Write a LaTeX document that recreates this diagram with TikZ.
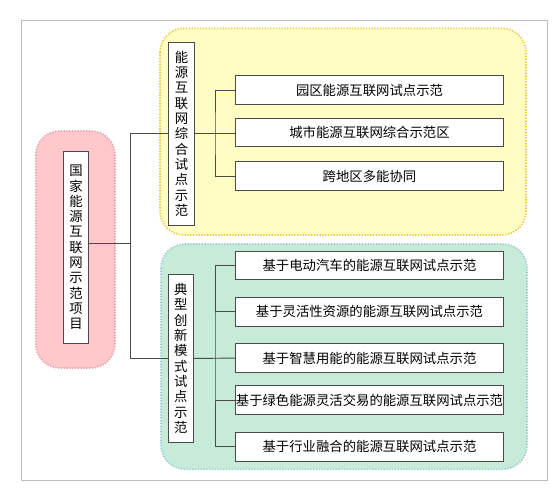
\documentclass[tikz,border=0pt]{standalone}
\usepackage{fontspec}
\setmainfont{Noto Sans CJK SC}
\usetikzlibrary{positioning}
\definecolor{PanelPink}{HTML}{FFC8CB}
\definecolor{EdgePink}{HTML}{E8A0A8}
\definecolor{PanelYellow}{HTML}{FFFDC4}
\definecolor{EdgeYellow}{HTML}{F2C53A}
\definecolor{PanelGreen}{HTML}{C6EBD9}
\definecolor{EdgeGreen}{HTML}{9CC8D4}
\definecolor{BoxLine}{HTML}{4A4A48}
\definecolor{FrameGray}{HTML}{BDBDBD}

\begin{document}
\begin{tikzpicture}[x=0.025cm,y=-0.025cm,
      panel/.style={rounded corners=0.6cm,line width=1.1pt,dash pattern=on 0.9pt off 1.1pt},
      leaf/.style={draw=BoxLine,fill=white,line width=0.8pt,minimum width=6.69cm,
      minimum height=0.72cm,inner sep=0pt,font=\fontsize{9.5}{11}\selectfont},
      vbox/.style={draw=BoxLine,fill=white,line width=0.8pt,minimum width=0.63cm,
      inner sep=0pt,align=center,font=\fontsize{9.5}{10.9}\selectfont},
      link/.style={draw=BoxLine,line width=0.7pt}]
      \useasboundingbox (0,0) rectangle (560,494);
      \draw[FrameGray,line width=0.7pt] (21.7,20) rectangle (547.7,480);
      % coloured panels
      \draw[panel,fill=PanelPink,draw=EdgePink] (35.7,131) rectangle (115,368);
      \draw[panel,fill=PanelYellow,draw=EdgeYellow] (160,28.3) rectangle (526,235);
      \draw[panel,fill=PanelGreen,draw=EdgeGreen] (161,244) rectangle (527,469.3);
      % root and groups
      \node[vbox,minimum height=4.79cm] (root) at (76,247.5)
        {国\\家\\能\\源\\互\\联\\网\\示\\范\\项\\目};
      \node[vbox,minimum height=4.57cm] (zonghe) at (181.5,133.7)
        {能\\源\\互\\联\\网\\综\\合\\试\\点\\示\\范};
      \node[vbox,minimum height=4.2cm] (chuangxin) at (180.9,358.3)
        {典\\型\\创\\新\\模\\式\\试\\点\\示\\范};
      % leaves of the first group
      \node[leaf] (yuanqu) at (369.5,90.2) {园区能源互联网试点示范};
      \node[leaf] (chengshi) at (369.5,132.5) {城市能源互联网综合示范区};
      \node[leaf] (kuadiqu) at (369.5,176.2) {跨地区多能协同};
      % leaves of the second group
      \node[leaf] (diandong) at (369.5,265.5) {基于电动汽车的能源互联网试点示范};
      \node[leaf] (linghuo) at (369.5,311.7) {基于灵活性资源的能源互联网试点示范};
      \node[leaf] (zhihui) at (369.5,358.2) {基于智慧用能的能源互联网试点示范};
      \node[leaf] (lvse) at (369.5,400.3) {基于绿色能源灵活交易的能源互联网试点示范};
      \node[leaf] (hangye) at (369.5,446.7) {基于行业融合的能源互联网试点示范};
      % connectors
      \coordinate (trunk) at (130.7,243.3);
      \coordinate (bus1) at (215,133.7);
      \coordinate (bus2) at (215,358.3);
      \draw[link] (root.east |- trunk) -- (trunk);
      \draw[link] (zonghe.west) -| (trunk) |- (chuangxin.west);
      \draw[link] (zonghe.east) -- (bus1);
      \draw[link] (yuanqu.west) -| (bus1) |- (kuadiqu.west);
      \draw[link] (bus1) -- (chengshi.west |- bus1);
      \draw[link] (chuangxin.east) -- (zhihui.west);
      \draw[link] (diandong.west) -| (bus2) |- (hangye.west);
      \draw[link] (bus2 |- linghuo.west) -- (linghuo.west);
      \draw[link] (bus2 |- lvse.west) -- (lvse.west);
\end{tikzpicture}
\end{document}
